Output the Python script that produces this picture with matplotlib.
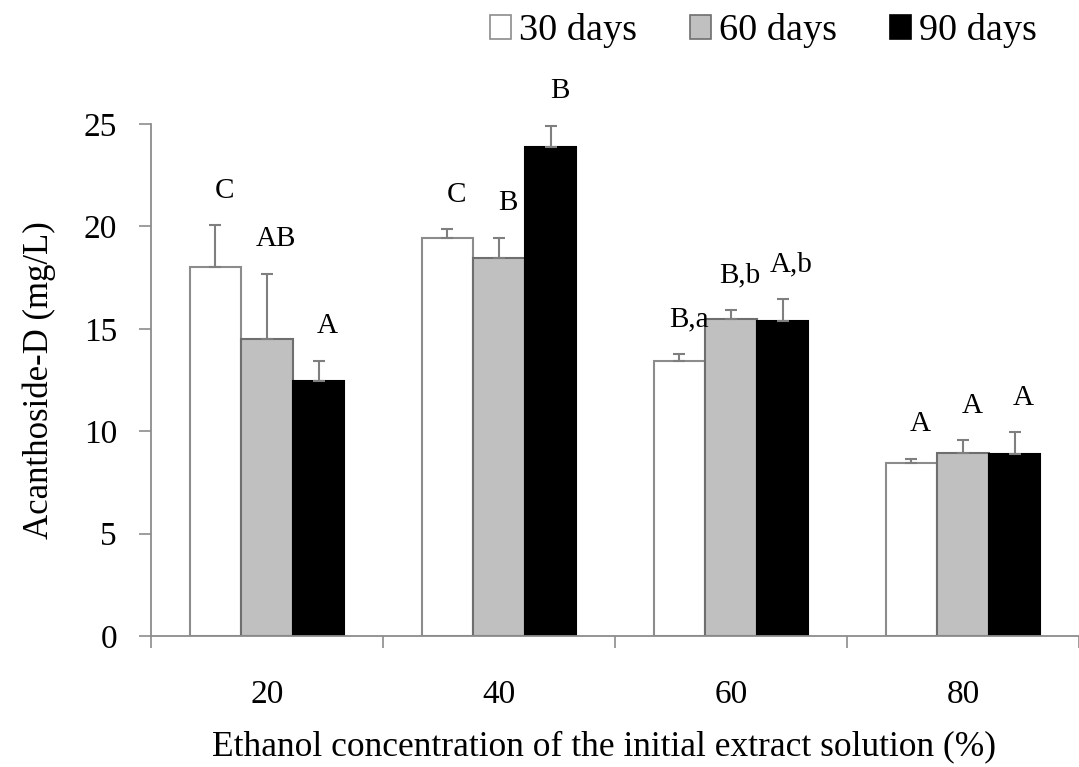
import matplotlib
matplotlib.use("Agg")
import matplotlib.pyplot as plt
from matplotlib.patches import Patch
import numpy as np

plt.rcParams['font.family'] = ['Liberation Serif', 'DejaVu Serif']

categories = ['20', '40', '60', '80']
series_names = ['30 days', '60 days', '90 days']
days30 = [18.0, 19.45, 13.45, 8.45]
err30 = [2.05, 0.4, 0.3, 0.2]
days60 = [14.5, 18.45, 15.5, 8.95]
err60 = [3.2, 1.0, 0.4, 0.6]
days90 = [12.45, 23.9, 15.4, 8.9]
err90 = [1.0, 1.0, 1.05, 1.05]
labels30 = ['C', 'C', 'B,a', 'A']
labels60 = ['AB', 'B', 'B,b', 'A']
labels90 = ['A', 'B', 'A,b', 'A']
y_ticks = [0, 5, 10, 15, 20, 25]

W, H = 1079, 767
fig = plt.figure(figsize=(W / 100, H / 100), dpi=100)
ax = fig.add_axes([151 / W, (H - 636) / H, (W - 151) / W, 512 / H])

axis_gray = '#8c8c8c'
x = np.arange(len(categories))
w = 0.222
series = [(days30, err30, labels30, 'white', axis_gray),
          (days60, err60, labels60, '#c0c0c0', '#6e6e6e'),
          (days90, err90, labels90, 'black', 'black')]
for k, (vals, errs, labs, fc, ec) in enumerate(series):
    pos = x + (k - 1) * w
    ax.bar(pos, vals, width=w, color=fc, edgecolor=ec, linewidth=1.5, zorder=2)
    ax.errorbar(pos, vals, yerr=[np.zeros(len(vals)), errs], fmt='none',
                ecolor='#7f7f7f', elinewidth=1.5, capsize=4.5, capthick=1.5, zorder=3)
    for p, v, e, t in zip(pos, vals, errs, labs):
        ax.annotate(t, xy=(p, v + e), xytext=(6.5, 25), textcoords='offset points',
                    ha='center', va='center', fontsize=21)

ax.set_xlim(-0.5, (W - 269) / 235)
ax.set_ylim(0, 25)
ax.set_yticks(y_ticks)
ax.set_xticks(x)
ax.set_xticklabels(categories)
ax.set_xticks(np.arange(-0.5, len(categories), 1.0), minor=True)
ax.tick_params(axis='x', which='major', length=0, pad=31, labelsize=24)
ax.tick_params(axis='x', which='minor', length=8.5, width=1.2, color=axis_gray, direction='out')
ax.tick_params(axis='y', length=8.5, width=1.2, color=axis_gray, direction='out', pad=16, labelsize=24)
for s in ['top', 'right']:
    ax.spines[s].set_visible(False)
for s in ['left', 'bottom']:
    ax.spines[s].set_color(axis_gray)
    ax.spines[s].set_linewidth(1.3)

ax.set_ylabel('Acanthoside-D (mg/L)', fontsize=25, labelpad=20)
ax.set_xlabel('Ethanol concentration of the initial extract solution (%)', fontsize=25.5)
ax.xaxis.set_label_coords(0.488, -0.184)

handles = [Patch(facecolor='white', edgecolor=axis_gray, linewidth=1.2),
           Patch(facecolor='#c0c0c0', edgecolor='#6e6e6e', linewidth=1.2),
           Patch(facecolor='black', edgecolor='black', linewidth=1.2)]
fig.legend(handles, series_names, ncol=3, frameon=False, fontsize=27.5,
           loc='upper right', bbox_to_anchor=(1052 / W, 1 + 2 / H),
           handlelength=0.55, handleheight=0.6, handletextpad=0.2,
           columnspacing=1.4, borderaxespad=0)

fig.savefig('out.png', dpi=100)
